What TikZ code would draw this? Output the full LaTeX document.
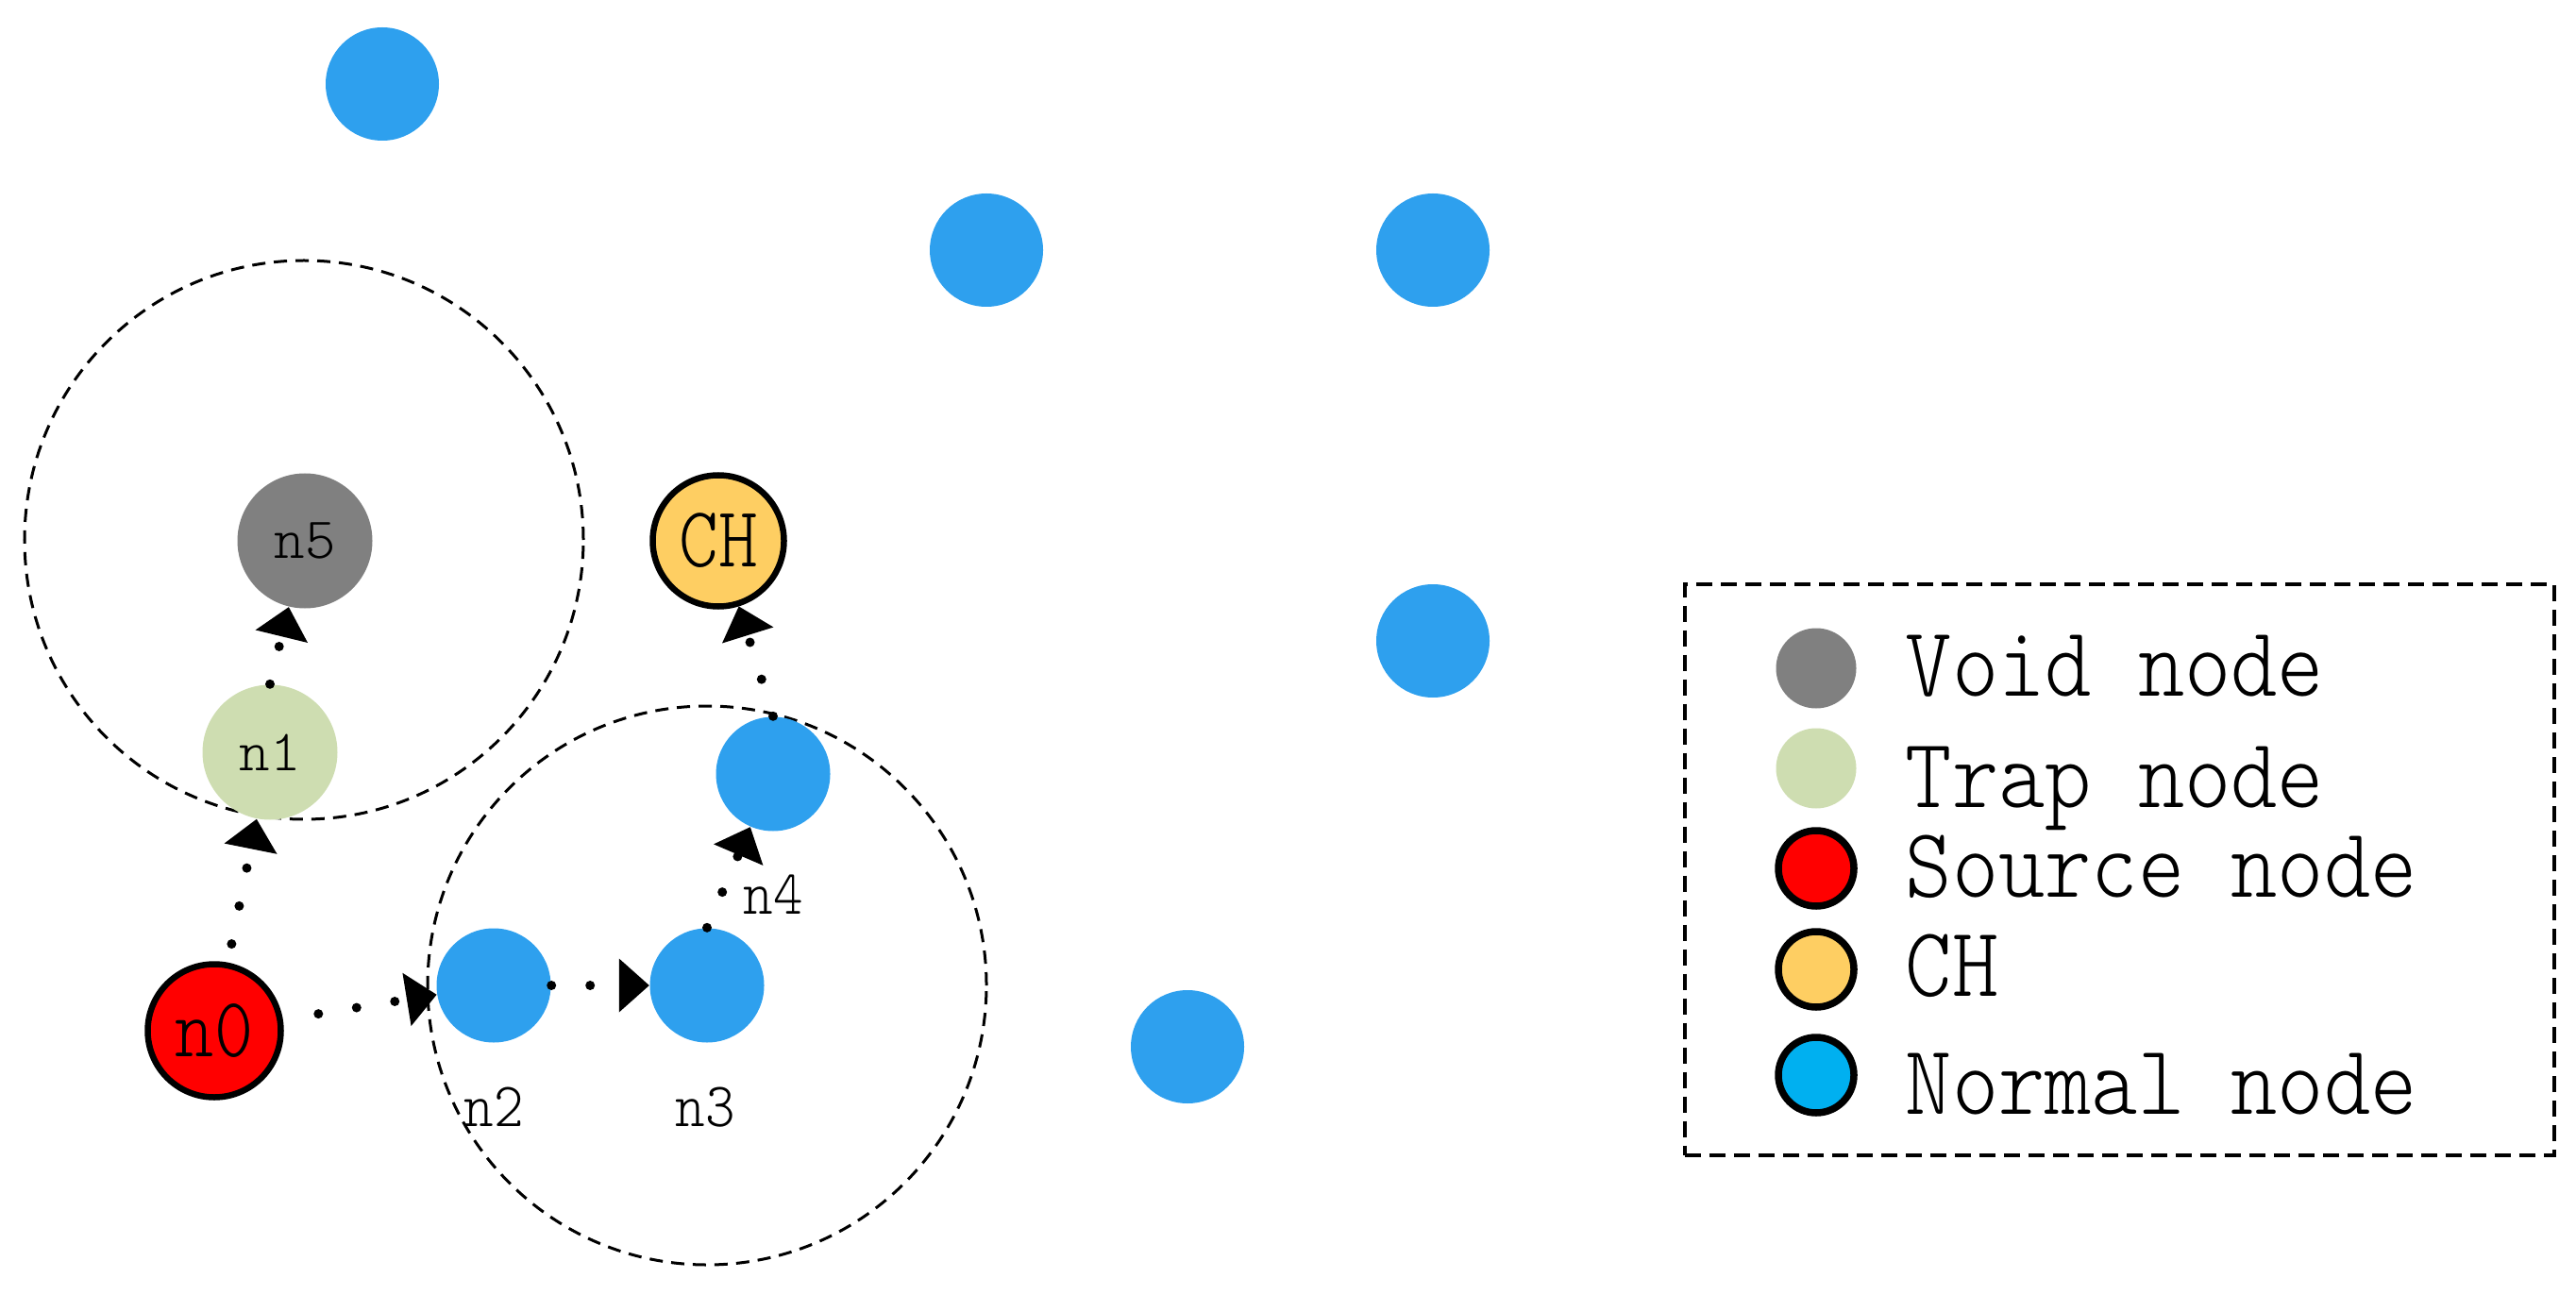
\documentclass[tikz,border=0pt]{standalone}
\usepackage{fontspec}
\setmonofont{Latin Modern Mono Light}
\usetikzlibrary{arrows.meta}
\definecolor{nblue}{RGB}{46,160,238}
\definecolor{vgray}{RGB}{128,128,128}
\definecolor{tgreen}{RGB}{206,221,177}
\definecolor{sred}{RGB}{255,0,0}
\definecolor{chyel}{RGB}{254,206,98}
\definecolor{lblue}{RGB}{0,176,240}
\newcommand\sqz[1]{\scalebox{0.87}[1]{#1}}
\tikzset{
  sensor/.style={circle, inner sep=0pt, minimum size=1.21cm, fill=nblue},
  bignode/.style={circle, inner sep=0pt, minimum size=1.43cm},
  rimmed/.style={circle, inner sep=0pt, minimum size=1.40cm, draw=black, line width=0.065cm},
  rangec/.style={draw=black, line width=0.03cm, dash pattern=on 0.14cm off 0.09cm},
  hop/.style={line width=0.1cm, line cap=round, dash pattern=on 0pt off 0.41cm,
    -{Triangle[length=0.32cm,width=0.57cm,line width=0pt]}},
  lgdot/.style={circle, inner sep=0pt, minimum size=0.85cm},
  lgrim/.style={circle, inner sep=0pt, minimum size=0.80cm, draw=black, line width=0.075cm},
  lgtext/.style={anchor=base west, inner sep=0pt, font=\ttfamily\fontsize{30}{30}\selectfont},
  smalllab/.style={font=\ttfamily\fontsize{19}{23}\selectfont, inner sep=0pt, anchor=base}
}
\begin{document}
\begin{tikzpicture}
\useasboundingbox (0,0) rectangle (27.29,-13.72);
% range circles
\draw[rangec] (3.22,-5.72) circle (2.96cm);
\draw[rangec] (7.49,-10.44) circle (2.96cm);
% other sensors
\node[sensor, minimum size=1.20cm] (b1) at (4.05,-0.89) {};
\node[sensor, minimum size=1.20cm] (b2) at (10.45,-2.65) {};
\node[sensor, minimum size=1.20cm] (b3) at (15.18,-2.65) {};
\node[sensor, minimum size=1.20cm] (b4) at (15.18,-6.79) {};
\node[sensor, minimum size=1.20cm] (b5) at (12.58,-11.09) {};
% main nodes
\node[bignode, fill=vgray, font=\ttfamily\fontsize{17.6}{21}\selectfont] (n5) at (3.23,-5.73) {n5};
\node[bignode, fill=tgreen, font=\ttfamily\fontsize{17.6}{21}\selectfont] (n1) at (2.86,-7.97) {n1};
\node[rimmed, fill=chyel, minimum size=1.39cm, font=\ttfamily\fontsize{26}{30}\selectfont] (ch) at (7.61,-5.73) {\sqz{CH}};
\node[rimmed, fill=sred, minimum size=1.41cm, font=\ttfamily\fontsize{25.6}{30}\selectfont] (n0) at (2.27,-10.92) {\sqz{n0}};
\node[sensor] (n2) at (5.23,-10.44) {};
\node[sensor] (n3) at (7.49,-10.44) {};
\node[sensor] (n4) at (8.19,-8.20) {};
% labels
\node[smalllab] (l2) at (5.23,-11.93) {\scalebox{0.9}[1]{n2}};
\node[smalllab] (l3) at (7.47,-11.93) {\scalebox{0.9}[1]{n3}};
\node[smalllab] (l4) at (8.19,-9.68) {\scalebox{0.9}[1]{n4}};
% hops
\draw[hop, shorten <=0.2cm] (n0) -- (n1);
\draw[hop, shorten <=0.38cm] (n0) -- (n2);
\draw[hop] (n2) -- (n3);
\draw[hop] (n3.north) -- (n4);
\draw[hop] (n4.north) -- (ch);
\draw[hop] (n1.north) -- (n5);
% legend
\node[draw=black, line width=0.035cm, dash pattern=on 0.17cm off 0.09cm, inner sep=0pt,
  minimum width=9.21cm, minimum height=6.05cm, anchor=north west] (lgbox) at (17.83,-6.17) {};
\node[lgdot, fill=vgray] (k1) at (19.24,-7.08) {};
\node[lgdot, fill=tgreen] (k2) at (19.24,-8.14) {};
\node[lgrim, fill=sred] (k3) at (19.24,-9.20) {};
\node[lgrim, fill=chyel] (k4) at (19.24,-10.27) {};
\node[lgrim, fill=lblue] (k5) at (19.24,-11.39) {};
\node[lgtext] (t1) at (20.18,-7.37) {\scalebox{0.89}[1]{Void node}};
\node[lgtext] (t2) at (20.18,-8.55) {\scalebox{0.89}[1]{Trap node}};
\node[lgtext] (t3) at (20.18,-9.50) {\scalebox{0.89}[1]{Source node}};
\node[lgtext] (t4) at (20.18,-10.55) {\scalebox{0.89}[1]{CH}};
\node[lgtext] (t5) at (20.18,-11.80) {\scalebox{0.89}[1]{Normal node}};
\end{tikzpicture}
\end{document}
